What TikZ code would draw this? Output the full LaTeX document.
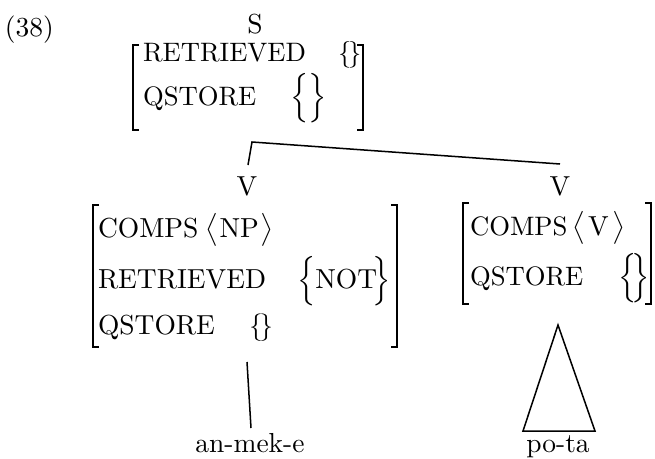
\documentclass[tikz,border=0pt]{standalone}
\usepackage{amsmath}
% square AVM brackets: left/right edge at x, from y1 down to y2
\newcommand{\avmleft}[3]{\draw[brk] (#1+6,#2) -- (#1,#2) -- (#1,#3) -- (#1+6,#3);}
\newcommand{\avmright}[3]{\draw[brk] (#1-6,#2) -- (#1,#2) -- (#1,#3) -- (#1-6,#3);}
% a tight empty set value
\newcommand{\nullset}{\{\kern-1.2pt\}}
\begin{document}
\begin{tikzpicture}[x=0.36364pt,y=-0.36364pt,
  lbl/.style={anchor=base west,inner sep=0pt,outer sep=0pt},
  cat/.style={anchor=base,inner sep=0pt,outer sep=0pt},
  avmsmall/.style={font=\fontsize{9.7pt}{11.5pt}\selectfont},
  edge/.style={line width=0.55pt},
  brk/.style={line width=0.6pt}]
\useasboundingbox (0,0) rectangle (655,458);

% example number and root category
\node[lbl] (num) at (5,36) {(38)};
\node[cat] (s) at (255,33) {S};

% root feature structure
\node[lbl,avmsmall] (sRet)  at (143,61)  {RETRIEVED};
\node[lbl,avmsmall] (sRetV) at (338,61)  {\nullset};
\node[lbl,avmsmall] (sQs)   at (143,105) {QSTORE};
\node[lbl,avmsmall] (sQsV)  at (290,105) {$\Big\{\Big\}$};
\avmleft{133}{45}{130}
\avmright{363}{45}{130}

% branches
\coordinate (joint) at (252,142);
\coordinate (lbranch) at (248,165);
\coordinate (rbranch) at (560,164);
\draw[edge] (lbranch) -- (joint) -- (rbranch);

% left daughter
\node[cat] (vl) at (247,195) {V};
\node[lbl] (vlComps)  at (98,237) {COMPS};
\node[lbl] (vlCompsV) at (205,237) {$\big\langle\mkern1mu\mathrm{NP}\mkern1mu\big\rangle$};
\node[lbl] (vlRet)    at (98,288) {RETRIEVED};
\node[lbl] (vlRetV)   at (297,288) {$\Big\{\mathrm{NOT}\!\Big\}$};
\node[lbl] (vlQs)     at (98,334) {QSTORE};
\node[lbl] (vlQsV)    at (249,334) {\nullset};
\avmleft{93}{205}{347}
\avmright{397}{205}{347}

% right daughter
\node[cat] (vr) at (560,195) {V};
\node[lbl,avmsmall] (vrComps)  at (470,235) {COMPS};
\node[lbl,avmsmall] (vrCompsV) at (572,235) {$\big\langle\mkern2mu\mathrm{V}\mkern2mu\big\rangle$};
\node[lbl,avmsmall] (vrQs)     at (470,285) {QSTORE};
\node[lbl,avmsmall] (vrQsV)    at (618,285) {$\Big\{\!\Big\}$};
\avmleft{463}{203}{304}
\avmright{651}{203}{304}

% words
\node[cat] (w1) at (250,452) {an-mek-e};
\node[cat] (w2) at (558,452) {po-ta};

% stem to the left word
\coordinate (stemtop) at (247,362);
\coordinate (stembot) at (251,428);
\draw[edge] (stemtop) -- (stembot);

% triangle over the right word
\coordinate (apex) at (558,325);
\coordinate (baseL) at (523,431);
\coordinate (baseR) at (595,431);
\draw[edge] (apex) -- (baseL) -- (baseR) -- cycle;
\end{tikzpicture}
\end{document}
